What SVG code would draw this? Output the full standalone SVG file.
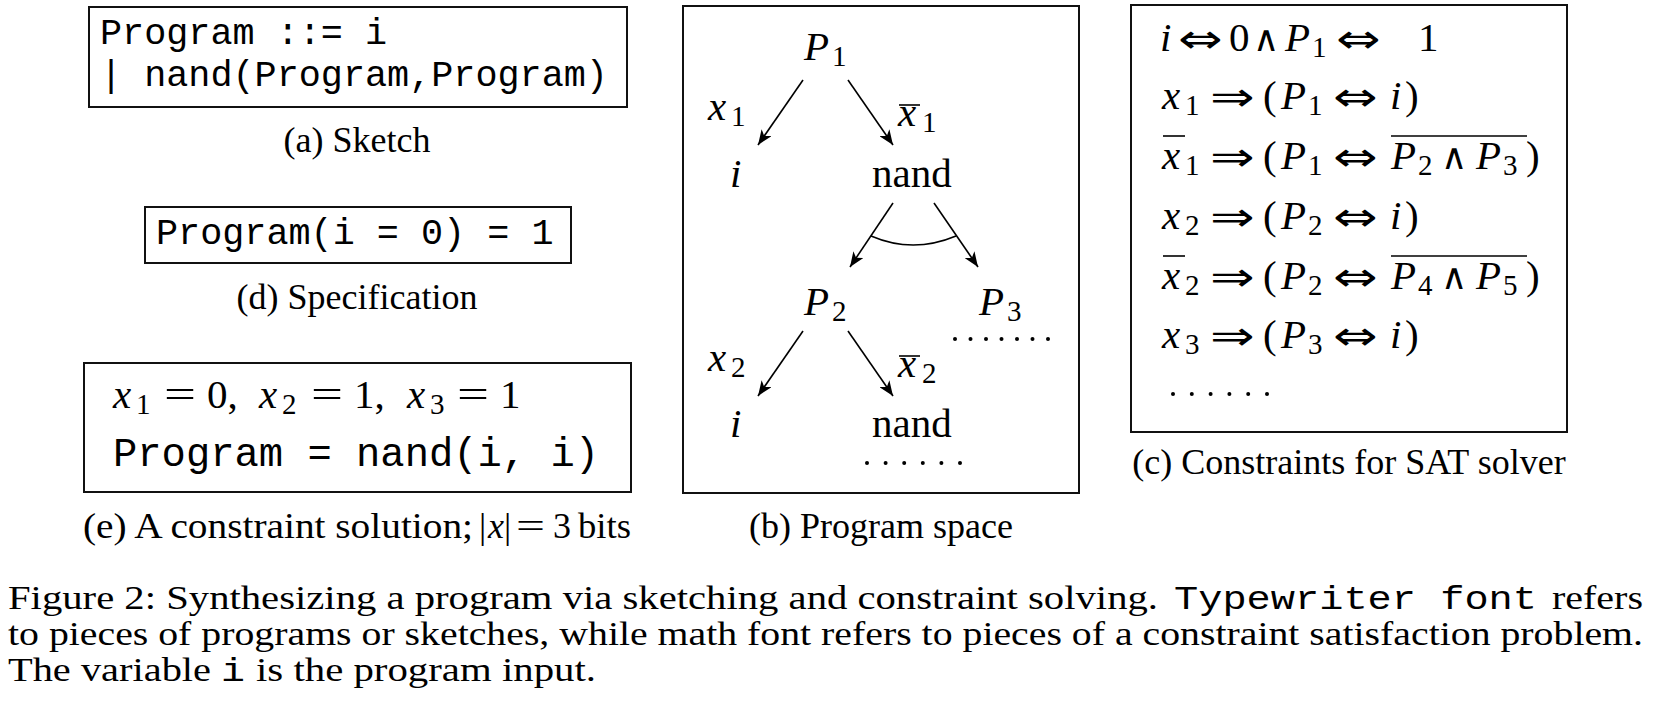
<svg xmlns="http://www.w3.org/2000/svg" width="1655" height="716" viewBox="0 0 1655 716">
<style>
.box{fill:none;stroke:#111;stroke-width:2}
.mono{font-family:"Liberation Mono",monospace;fill:#000}
.rm{font-family:"Liberation Serif",serif;fill:#000}
.mi{font-family:"Liberation Serif",serif;font-style:italic;fill:#000}
.sym{font-family:"DejaVu Sans",sans-serif;fill:#000}
.m{font-size:41px}
.s{font-size:29px}
.cap{font-family:"Liberation Serif",serif;font-size:36px;text-anchor:middle;fill:#000}
.fc{font-size:33px}
.edge{stroke:#000;stroke-width:1.6;fill:none}
.bar{stroke:#000;stroke-width:1.6}
</style>
<defs>
<marker id="ah" markerWidth="16" markerHeight="12" refX="15" refY="6" orient="auto" markerUnits="userSpaceOnUse">
<path d="M0,0 L15,6 L0,12 L4,6 Z" fill="#000"/>
</marker>
<circle id="dot" r="2" fill="#000"/>
</defs>
<rect x="0" y="0" width="1655" height="716" fill="#fff"/>

<!-- (a) Sketch -->
<g id="sketch">
<rect class="box" x="89" y="7" width="538" height="100"/>
<text class="mono" font-size="36.8" x="100" y="44">Program ::= i</text>
<text class="mono" font-size="36.8" x="100" y="86">| nand(Program,Program)</text>
<text class="cap" x="357" y="152">(a) Sketch</text>
</g>

<!-- (d) Specification -->
<g id="spec">
<rect class="box" x="145" y="207" width="426" height="56"/>
<text class="mono" font-size="36.8" x="156" y="244">Program(i = 0) = 1</text>
<text class="cap" x="357" y="309">(d) Specification</text>
</g>

<!-- (e) Solution -->
<g id="solution">
<rect class="box" x="84" y="363" width="547" height="129"/>
<text class="mi m" x="113" y="408">x</text><text class="rm s" x="136" y="414">1</text>
<text class="rm m" x="164" y="408" textLength="32" lengthAdjust="spacingAndGlyphs">=</text>
<text class="rm m" x="207" y="408">0,</text>
<text class="mi m" x="259" y="408">x</text><text class="rm s" x="282" y="414">2</text>
<text class="rm m" x="311" y="408" textLength="32" lengthAdjust="spacingAndGlyphs">=</text>
<text class="rm m" x="354" y="408">1,</text>
<text class="mi m" x="407" y="408">x</text><text class="rm s" x="430" y="414">3</text>
<text class="rm m" x="457" y="408" textLength="32" lengthAdjust="spacingAndGlyphs">=</text>
<text class="rm m" x="500" y="408">1</text>
<text class="mono" font-size="40.5" x="113" y="466">Program = nand(i, i)</text>
<text class="rm" font-size="36" x="83" y="538" textLength="390" lengthAdjust="spacingAndGlyphs">(e) A constraint solution;</text>
<text class="rm" font-size="36" x="479" y="538">|</text>
<text class="mi" font-size="36" x="488" y="538">x</text>
<text class="rm" font-size="36" x="504" y="538">|</text>
<text class="rm" font-size="36" x="516" y="538" textLength="29" lengthAdjust="spacingAndGlyphs">=</text>
<text class="rm" font-size="36" x="553" y="538">3</text>
<text class="rm" font-size="36" x="631" y="538" text-anchor="end" textLength="53" lengthAdjust="spacingAndGlyphs">bits</text>
</g>

<!-- (b) Program space -->
<g id="space">
<rect class="box" x="683" y="6" width="396" height="487"/>
<g id="n-P1"><text class="mi m" x="804" y="60">P</text><text class="rm s" x="832" y="66">1</text></g>
<g id="l-x1"><text class="mi m" x="708" y="120">x</text><text class="rm s" x="731" y="126">1</text></g>
<g id="l-nx1"><line class="bar" x1="899" y1="105" x2="920" y2="105"/><text class="mi m" x="898" y="126">x</text><text class="rm s" x="922" y="132">1</text></g>
<g id="n-i1"><text class="mi m" x="730" y="187">i</text></g>
<g id="n-nand1"><text class="rm m" x="872" y="187">nand</text></g>
<g id="n-P2"><text class="mi m" x="804" y="315">P</text><text class="rm s" x="832" y="321">2</text></g>
<g id="n-P3"><text class="mi m" x="979" y="315">P</text><text class="rm s" x="1007" y="321">3</text>
<use href="#dot" x="955" y="339"/><use href="#dot" x="970.5" y="339"/><use href="#dot" x="986" y="339"/><use href="#dot" x="1001.5" y="339"/><use href="#dot" x="1017" y="339"/><use href="#dot" x="1032.5" y="339"/><use href="#dot" x="1048" y="339"/></g>
<g id="l-x2"><text class="mi m" x="708" y="371">x</text><text class="rm s" x="731" y="377">2</text></g>
<g id="l-nx2"><line class="bar" x1="899" y1="356" x2="920" y2="356"/><text class="mi m" x="898" y="377">x</text><text class="rm s" x="922" y="383">2</text></g>
<g id="n-i2"><text class="mi m" x="730" y="437">i</text></g>
<g id="n-nand2"><text class="rm m" x="872" y="437">nand</text>
<use href="#dot" x="867" y="463"/><use href="#dot" x="885.6" y="463"/><use href="#dot" x="904.2" y="463"/><use href="#dot" x="922.8" y="463"/><use href="#dot" x="941.4" y="463"/><use href="#dot" x="960" y="463"/></g>
<text class="cap" x="881" y="538">(b) Program space</text>
</g>

<g id="connectors">
<path class="edge" d="M803,80 L758,145" marker-end="url(#ah)"/>
<path class="edge" d="M848,80 L893,145" marker-end="url(#ah)"/>
<path class="edge" d="M893,203 L850,267" marker-end="url(#ah)"/>
<path class="edge" d="M934,203 L978,267" marker-end="url(#ah)"/>
<path class="edge" d="M871,236 Q913,254 956,236"/>
<path class="edge" d="M803,331 L758,396" marker-end="url(#ah)"/>
<path class="edge" d="M848,331 L893,396" marker-end="url(#ah)"/>
</g>

<!-- (c) Constraints -->
<g id="constraints">
<rect class="box" x="1131" y="5" width="436" height="427"/>
<!-- line 1 -->
<text class="mi m" x="1160" y="51">i</text>
<text class="sym m" transform="translate(1178,53) scale(1.3,1)">⇔</text>
<text class="rm m" x="1229" y="51">0</text>
<text class="sym" font-size="36" x="1253" y="51">∧</text>
<text class="mi m" x="1285" y="51">P</text><text class="rm s" x="1312" y="57">1</text>
<text class="sym m" transform="translate(1336,53) scale(1.3,1)">⇔</text>
<text class="rm m" x="1418" y="51">1</text>
<!-- line 2 -->
<text class="mi m" x="1162" y="109">x</text><text class="rm s" x="1185" y="115">1</text>
<text class="sym m" transform="translate(1210,111) scale(1.3,1)">⇒</text>
<text class="rm m" x="1263" y="109">(</text>
<text class="mi m" x="1281" y="109">P</text><text class="rm s" x="1308" y="115">1</text>
<text class="sym m" transform="translate(1333,111) scale(1.3,1)">⇔</text>
<text class="mi m" x="1390" y="109">i</text>
<text class="rm m" x="1405" y="109">)</text>
<!-- line 3 -->
<line class="bar" x1="1163" y1="136" x2="1185" y2="136"/>
<text class="mi m" x="1162" y="169">x</text><text class="rm s" x="1185" y="175">1</text>
<text class="sym m" transform="translate(1210,171) scale(1.3,1)">⇒</text>
<text class="rm m" x="1263" y="169">(</text>
<text class="mi m" x="1281" y="169">P</text><text class="rm s" x="1308" y="175">1</text>
<text class="sym m" transform="translate(1333,171) scale(1.3,1)">⇔</text>
<line class="bar" x1="1391" y1="136" x2="1527" y2="136"/>
<text class="mi m" x="1391" y="169">P</text><text class="rm s" x="1418" y="175">2</text>
<text class="sym" font-size="36" x="1441" y="169">∧</text>
<text class="mi m" x="1476" y="169">P</text><text class="rm s" x="1503" y="175">3</text>
<text class="rm m" x="1526" y="169">)</text>
<!-- line 4 -->
<text class="mi m" x="1162" y="229">x</text><text class="rm s" x="1185" y="235">2</text>
<text class="sym m" transform="translate(1210,231) scale(1.3,1)">⇒</text>
<text class="rm m" x="1263" y="229">(</text>
<text class="mi m" x="1281" y="229">P</text><text class="rm s" x="1308" y="235">2</text>
<text class="sym m" transform="translate(1333,231) scale(1.3,1)">⇔</text>
<text class="mi m" x="1390" y="229">i</text>
<text class="rm m" x="1405" y="229">)</text>
<!-- line 5 -->
<line class="bar" x1="1163" y1="256" x2="1185" y2="256"/>
<text class="mi m" x="1162" y="289">x</text><text class="rm s" x="1185" y="295">2</text>
<text class="sym m" transform="translate(1210,291) scale(1.3,1)">⇒</text>
<text class="rm m" x="1263" y="289">(</text>
<text class="mi m" x="1281" y="289">P</text><text class="rm s" x="1308" y="295">2</text>
<text class="sym m" transform="translate(1333,291) scale(1.3,1)">⇔</text>
<line class="bar" x1="1391" y1="256" x2="1527" y2="256"/>
<text class="mi m" x="1391" y="289">P</text><text class="rm s" x="1418" y="295">4</text>
<text class="sym" font-size="36" x="1441" y="289">∧</text>
<text class="mi m" x="1476" y="289">P</text><text class="rm s" x="1503" y="295">5</text>
<text class="rm m" x="1526" y="289">)</text>
<!-- line 6 -->
<text class="mi m" x="1162" y="348">x</text><text class="rm s" x="1185" y="354">3</text>
<text class="sym m" transform="translate(1210,350) scale(1.3,1)">⇒</text>
<text class="rm m" x="1263" y="348">(</text>
<text class="mi m" x="1281" y="348">P</text><text class="rm s" x="1308" y="354">3</text>
<text class="sym m" transform="translate(1333,350) scale(1.3,1)">⇔</text>
<text class="mi m" x="1390" y="348">i</text>
<text class="rm m" x="1405" y="348">)</text>
<use href="#dot" x="1173" y="394"/><use href="#dot" x="1191.8" y="394"/><use href="#dot" x="1210.6" y="394"/><use href="#dot" x="1229.4" y="394"/><use href="#dot" x="1248.2" y="394"/><use href="#dot" x="1267" y="394"/>
<text class="cap" x="1349" y="474">(c) Constraints for SAT solver</text>
</g>

<!-- Figure caption -->
<g id="caption">
<text class="rm fc" x="8" y="609" textLength="1150" lengthAdjust="spacingAndGlyphs">Figure 2: Synthesizing a program via sketching and constraint solving.</text>
<text class="mono fc" x="1174" y="609" textLength="363" lengthAdjust="spacingAndGlyphs">Typewriter font</text>
<text class="rm fc" x="1643" y="609" text-anchor="end" textLength="91" lengthAdjust="spacingAndGlyphs">refers</text>
<text class="rm fc" x="8" y="645" textLength="1635" lengthAdjust="spacingAndGlyphs">to pieces of programs or sketches, while math font refers to pieces of a constraint satisfaction problem.</text>
<text class="rm fc" x="8" y="681" textLength="203" lengthAdjust="spacingAndGlyphs">The variable</text>
<text class="mono fc" x="221" y="681" textLength="24" lengthAdjust="spacingAndGlyphs">i</text>
<text class="rm fc" x="256" y="681" textLength="340" lengthAdjust="spacingAndGlyphs">is the program input.</text>
</g>
</svg>
